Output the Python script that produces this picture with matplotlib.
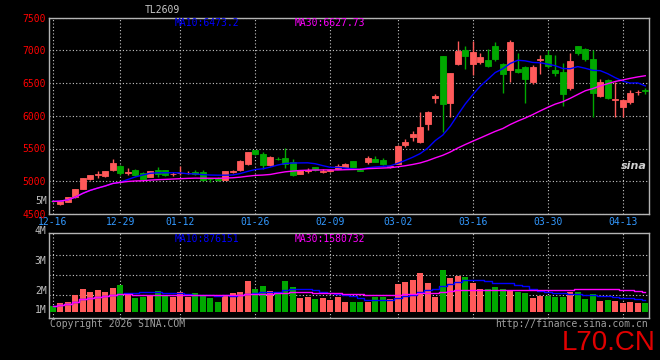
import numpy as np
import matplotlib
matplotlib.use("Agg")
import matplotlib.pyplot as plt
import pandas as pd

plt.rcParams.update({"font.family": "DejaVu Sans Mono", "font.size": 7})

# datos (índice de sesión 0..79)
opens = [4700, 4652, 4686, 4753, 4879, 5030, 5100, 5076, 5167, 5227,
         5128, 5167, 5132, 5065, 5167, 5167, 5114, 5128, 5128, 5142,
         5141, 5034, 5045, 5026, 5148, 5167, 5258, 5470, 5420, 5242,
         5346, 5358, 5292, 5117, 5162, 5216, 5148, 5163, 5192, 5216,
         5308, 5168, 5292, 5340, 5318, 5216, 5268, 5560, 5682, 5595,
         5874, 6268, 6909, 6201, 6792, 7010, 6792, 6825, 6848, 7060,
         6783, 6692, 6712, 6742, 6515, 6855, 6935, 6692, 6667, 6429,
         7060, 7025, 6860, 6303, 6540, 6248, 6140, 6212, 6360, 6392]
highs = [4712, 4712, 4760, 4880, 5055, 5095, 5150, 5155, 5333, 5245,
         5195, 5180, 5140, 5155, 5210, 5175, 5140, 5230, 5150, 5165,
         5165, 5050, 5060, 5155, 5175, 5320, 5450, 5475, 5440, 5380,
         5365, 5505, 5338, 5175, 5195, 5225, 5190, 5190, 5262, 5275,
         5315, 5195, 5390, 5390, 5355, 5245, 5550, 5650, 5773, 6050,
         6065, 6330, 6915, 6660, 7136, 7061, 7136, 6960, 7020, 7120,
         6800, 7152, 6960, 6760, 6780, 6920, 7000, 6935, 6800, 6960,
         7060, 7030, 7000, 6560, 6560, 6515, 6250, 6400, 6400, 6425]
lows = [4680, 4645, 4680, 4740, 4875, 5015, 5050, 5070, 5160, 5095,
        5095, 5085, 5035, 5060, 5065, 5085, 5080, 5100, 5110, 5100,
        5000, 4995, 5010, 5020, 5120, 5160, 5250, 5400, 5192, 5230,
        5320, 5202, 5080, 5110, 5130, 5160, 5120, 5135, 5185, 5210,
        5210, 5150, 5270, 5290, 5250, 5200, 5260, 5530, 5620, 5590,
        5782, 6200, 5750, 5974, 6780, 6712, 6620, 6790, 6740, 6830,
        6340, 6510, 6660, 6200, 6480, 6640, 6730, 6600, 6155, 6400,
        6935, 6830, 5985, 6280, 6250, 5980, 5985, 6180, 6320, 6330]
closes = [4692, 4702, 4753, 4879, 5050, 5091, 5106, 5151, 5273, 5132,
          5134, 5091, 5041, 5151, 5117, 5091, 5118, 5133, 5133, 5110,
          5026, 5028, 5020, 5151, 5152, 5308, 5444, 5420, 5242, 5368,
          5340, 5268, 5090, 5167, 5168, 5167, 5152, 5167, 5232, 5268,
          5216, 5163, 5353, 5300, 5257, 5240, 5545, 5606, 5722, 5823,
          6060, 6303, 6186, 6656, 6985, 6909, 6970, 6894, 6762, 6873,
          6632, 7121, 6670, 6565, 6742, 6862, 6757, 6656, 6338, 6833,
          6960, 6868, 6353, 6515, 6277, 6256, 6238, 6353, 6366, 6372]
# volumen en millones
volumes = [0.46, 0.66, 0.76, 1.32, 1.8, 1.56, 1.72, 1.58, 1.88, 2.12,
           1.38, 1.08, 1.16, 1.24, 1.64, 1.32, 1.18, 1.56, 1.18, 1.48,
           1.26, 1.12, 0.76, 1.32, 1.5, 1.56, 2.44, 1.8, 2.04, 1.64,
           1.56, 2.44, 1.96, 1.1, 1.18, 1.0, 1.1, 0.92, 1.18, 0.76,
           0.76, 0.76, 0.76, 1.13, 1.13, 0.98, 2.2, 2.36, 2.52, 3.08,
           2.3, 1.18, 3.32, 2.7, 2.86, 2.76, 2.3, 1.8, 1.8, 1.96,
           1.8, 1.72, 1.58, 1.48, 1.1, 1.24, 1.24, 1.18, 1.18, 1.58,
           1.58, 1.0, 1.4, 0.84, 0.92, 0.84, 0.66, 0.76, 0.66, 0.66]

date_ticks = [0, 9, 17, 27, 37, 46, 56, 66, 76]
date_labels = ["12-16", "12-29", "01-12", "01-26", "02-09", "03-02", "03-16", "03-30", "04-13"]
price_ticks = [4500, 5000, 5500, 6000, 6500, 7000, 7500]
vol_grid = [1.32, 2.92, 4.52]
vol_labels = {"4M": 6.44, "3M": 4.04, "2M": 1.64, "1M": 0.12}

title = "TL2609"
ma_price_text = ("MA10:6473.2", "MA30:6627.73")
ma_vol_text = ("MA10:876151", "MA30:1580732")

RED = "#ff5a5a"
GREEN = "#00a800"
GRID = "#c8c8c8"
FRAME = "#b4b4b4"
W, H = 660, 360


def px_axes(fig, x0, y0, x1, y1):
    return fig.add_axes([x0 / W, 1 - y1 / H, (x1 - x0) / W, (y1 - y0) / H])


def px_text(fig, x, y, s, **kw):
    # coordenadas en píxeles desde la esquina superior izquierda
    return fig.text(x / W, 1 - y / H, s, **kw)


def style(ax):
    ax.set_facecolor("black")
    for s in ax.spines.values():
        s.set_color(FRAME)
        s.set_linewidth(1.0)
    ax.set_xlim(-0.5, len(closes) - 0.5)
    ax.set_xticks(date_ticks)
    ax.grid(True, color=GRID, linestyle=(0, (1, 2)), linewidth=0.8)
    ax.tick_params(length=0)


df = pd.DataFrame({"o": opens, "h": highs, "l": lows, "c": closes, "v": volumes})
x = np.arange(len(df))
up = df["c"] >= df["o"]
cols = np.where(up, RED, GREEN)

fig = plt.figure(figsize=(W / 100, H / 100), dpi=100, facecolor="black")

# panel de precios
ax = px_axes(fig, 49, 17.5, 649, 214)
style(ax)
ax.set_ylim(4500, 7500)
ax.set_yticks(price_ticks)
ax.tick_params(axis="y", labelcolor="#ff0000", pad=2)
ax.set_xticklabels(date_labels)
ax.tick_params(axis="x", labelcolor="#3399ff", pad=2.5)
ax.vlines(x, df["l"], df["h"], colors=cols, linewidth=1.0, zorder=3)
body_lo = np.minimum(df["o"], df["c"])
body_h = np.abs(df["c"] - df["o"])
ax.bar(x, body_h, bottom=body_lo, width=0.8, color=cols, edgecolor=cols,
       linewidth=0.6, zorder=4)
ax.plot(x, df["c"].rolling(10, min_periods=1).mean(), color="#0000ff", lw=1.0, zorder=5)
ax.plot(x, df["c"].rolling(30, min_periods=1).mean(), color="#ff00ff", lw=1.0, zorder=5)

# panel de volumen
axv = px_axes(fig, 49, 233, 649, 318)
style(axv)
axv.set_ylim(-0.52, 6.28)
axv.set_yticks([])
axv.set_xticklabels([])
axv.grid(False, axis="y")
for g in vol_grid:
    axv.axhline(g, color=GRID, linestyle=(0, (1, 2)), linewidth=0.8, zorder=1)
axv.bar(x, df["v"], width=0.8, color=cols, zorder=3)
axv.plot(x, df["v"].rolling(10, min_periods=1).mean(), color="#0000ff", lw=1.0,
         drawstyle="steps-mid", zorder=4)
axv.plot(x, df["v"].rolling(30, min_periods=1).mean(), color="#ff00ff", lw=1.0,
         drawstyle="steps-mid", zorder=4)
for lab, v in vol_labels.items():
    axv.text(-0.004, v, lab, color="#c0c0c0", ha="right", va="center",
             transform=axv.get_yaxis_transform(), clip_on=False)

# textos sueltos
px_text(fig, 175, 23, ma_price_text[0], color="#0000ff", va="center")
px_text(fig, 295, 23, ma_price_text[1], color="#ff00ff", va="center")
px_text(fig, 175, 239, ma_vol_text[0], color="#0000ff", va="center")
px_text(fig, 295, 239, ma_vol_text[1], color="#ff00ff", va="center")
px_text(fig, 634, 166, "sina", color="#d0d0d0", fontsize=8, fontstyle="italic",
        fontweight="bold", family="DejaVu Sans", ha="center", va="center")
px_text(fig, 162, 10, title, color="#c8c8c8", ha="center", va="center")
px_text(fig, 47, 201, "5M", color="#c0c0c0", ha="right", va="center")
px_text(fig, 50, 324, "Copyright 2026 SINA.COM", color="#a0a0a0", va="center")
px_text(fig, 648, 324, "http://finance.sina.com.cn", color="#a0a0a0",
        ha="right", va="center")
px_text(fig, 656, 350, "L70.CN", color="#e00000", fontsize=20,
        family=["Liberation Sans", "DejaVu Sans"], ha="right", va="baseline")

fig.savefig("out.png", dpi=100, facecolor="black")
